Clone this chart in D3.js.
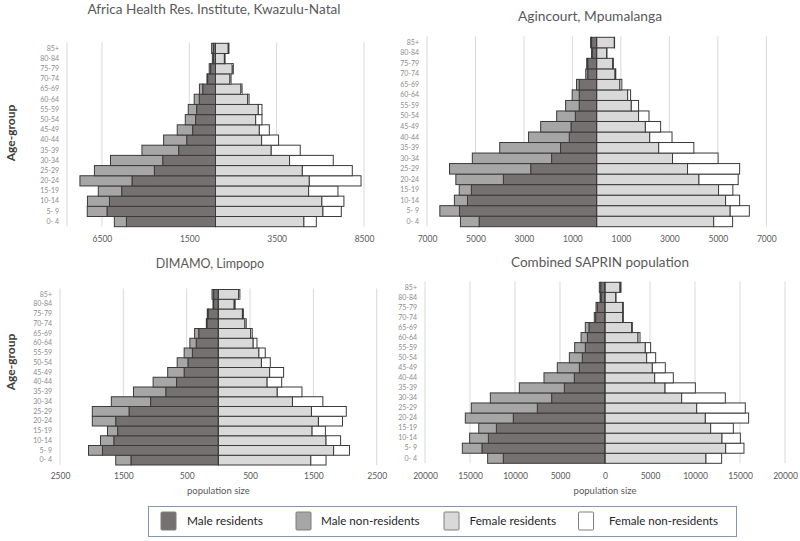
<!DOCTYPE html>
<html>
<head>
<meta charset="utf-8">
<script src="https://cdn.jsdelivr.net/npm/d3@7/dist/d3.min.js"></script>
<style>
  html, body { margin: 0; padding: 0; background: #fff; }
  svg { display: block; font-family: Lato, "Open Sans", sans-serif; }
</style>
</head>
<body>
<svg id="chart" width="800" height="541"></svg>
<script>
// ---------- DATA (age groups listed from youngest to oldest) ----------
const ageGroups = ["0- 4","5- 9","10-14","15-19","20-24","25-29","30-34","35-39","40-44",
                   "45-49","50-54","55-59","60-64","65-69","70-74","75-79","80-84","85+"];

const seriesNames = ["Male residents","Male non-residents","Female residents","Female non-residents"];

// Africa Health Res. Institute, Kwazulu-Natal
const ahriMaleRes      = [5100,6210,6070,5370,4780,3500,3020,2110,1650,1310,1140,1080,930,730,450,280,120,120];
const ahriMaleNonRes   = [690,1130,1260,1340,2980,3430,2990,2100,1320,880,590,480,290,190,40,80,60,100];
const ahriFemaleRes    = [5060,6150,6090,5330,5370,4970,4240,3190,2640,2510,2300,2450,1840,1460,830,960,510,730];
const ahriFemaleNonRes = [710,1050,1260,1680,2960,2860,2500,1660,970,570,360,210,80,60,60,60,40,40];
const ahriTicks = [-6500,-1500,3500,8500];

// Agincourt, Mpumalanga
const agiMaleRes      = [4850,5660,5330,5170,3850,2720,1860,1490,1130,1060,880,720,720,720,370,370,180,210];
const agiMaleNonRes   = [770,810,540,500,1960,3350,3270,2510,1680,1250,770,560,290,110,80,40,30,40];
const agiFemaleRes    = [4830,5510,5320,5030,4220,3750,3130,2560,2190,2010,1730,1430,1280,960,760,660,410,730];
const agiFemaleNonRes = [780,790,580,590,1620,2150,1880,1450,920,630,430,300,120,80,30,30,15,10];
const agiTicks = [-7000,-5000,-3000,-1000,1000,3000,5000,7000];

// DIMAMO, Limpopo
const dimMaleRes      = [1380,1830,1650,1590,1620,1410,1070,830,660,540,480,410,350,310,180,160,75,75];
const dimMaleNonRes   = [240,220,210,160,370,580,620,510,370,260,170,130,100,65,10,15,10,25];
const dimFemaleRes    = [1460,1820,1700,1480,1580,1470,1170,930,770,810,680,640,550,510,420,380,250,320];
const dimFemaleNonRes = [240,250,230,210,380,550,480,390,230,220,140,100,60,25,20,15,15,20];
const dimTicks = [-2500,-1500,-500,500,1500,2500];

// Combined SAPRIN population
const comMaleRes      = [11300,13670,12960,12070,10190,7520,5930,4520,3410,2850,2520,2190,1960,1780,1040,850,440,480];
const comMaleNonRes   = [1740,2180,2080,1960,5330,7330,6810,5000,3370,2450,1440,1180,700,410,150,150,110,150];
const comFemaleRes    = [11220,13410,13000,11740,11150,10190,8520,6670,5520,5260,4630,4480,3670,2960,1960,1960,1190,1670];
const comFemaleNonRes = [1740,2030,2040,2520,4810,5400,4850,3370,2070,1440,1000,590,220,80,80,80,30,110];
const comTicks = [-20000,-15000,-10000,-5000,0,5000,10000,15000,20000];

const titles = ["Africa Health Res. Institute, Kwazulu-Natal","Agincourt, Mpumalanga","DIMAMO, Limpopo","Combined SAPRIN population"];

// ---------- STYLE / LAYOUT ----------
const colors = ["#767171","#a6a6a6","#d9d9d9","#ffffff"];
const stroke = "#3a3a3a";

const panels = [
  { title: titles[0], mr: ahriMaleRes, mn: ahriMaleNonRes, fr: ahriFemaleRes, fn: ahriFemaleNonRes,
    ticks: ahriTicks, domain: [-8500, 8500], x: [67, 364], y: [43.3, 226.7],
    titleX: 214, titleY: 14, titleW: 253, tickY: 240, xlabel: false },
  { title: titles[1], mr: agiMaleRes, mn: agiMaleNonRes, fr: agiFemaleRes, fn: agiFemaleNonRes,
    ticks: agiTicks, domain: [-7000, 7000], x: [427, 766.3], y: [37.3, 226.7],
    titleX: 590, titleY: 21, titleW: 144, tickY: 240, xlabel: false },
  { title: titles[2], mr: dimMaleRes, mn: dimMaleNonRes, fr: dimFemaleRes, fn: dimFemaleNonRes,
    ticks: dimTicks, domain: [-2500, 2500], x: [60, 376.7], y: [289.5, 465],
    titleX: 210, titleY: 268, titleW: null, tickY: 477, xlabel: true },
  { title: titles[3], mr: comMaleRes, mn: comMaleNonRes, fr: comFemaleRes, fn: comFemaleNonRes,
    ticks: comTicks, domain: [-20000, 20000], x: [425, 785], y: [282.3, 463.3],
    titleX: 600, titleY: 267, titleW: 178, tickY: 477, xlabel: true }
];

const svg = d3.select("#chart");

function fitFont(sel, base, target) {
  sel.style("font-size", base + "px");
  if (!target) return;
  const w = sel.node().getComputedTextLength();
  if (w > 0) sel.style("font-size", (base * target / w).toFixed(2) + "px");
}

panels.forEach(p => {
  const g = svg.append("g");
  const x = d3.scaleLinear().domain(p.domain).range(p.x);
  const y = d3.scaleBand().domain(ageGroups.slice().reverse()).range(p.y).padding(0);

  // gridlines (including left axis line at domain min)
  const gridVals = [p.domain[0]].concat(p.ticks.filter(t => t !== p.domain[0] && t !== 0));
  g.selectAll("line.grid").data(gridVals).enter().append("line")
    .attr("x1", d => x(d)).attr("x2", d => x(d))
    .attr("y1", p.y[0] - 1).attr("y2", p.y[1])
    .attr("stroke", "#d9d9d9").attr("stroke-width", 1);

  // bars
  const rows = ageGroups.map((a, i) => ({
    age: a, mr: p.mr[i], mn: p.mn[i], fr: p.fr[i], fn: p.fn[i]
  }));
  const segs = [];
  rows.forEach(r => {
    segs.push({ age: r.age, x0: -r.mr, x1: 0, c: 0 });
    segs.push({ age: r.age, x0: -(r.mr + r.mn), x1: -r.mr, c: 1 });
    segs.push({ age: r.age, x0: 0, x1: r.fr, c: 2 });
    segs.push({ age: r.age, x0: r.fr, x1: r.fr + r.fn, c: 3 });
  });
  g.selectAll("rect.bar").data(segs).enter().append("rect")
    .attr("x", d => x(d.x0))
    .attr("width", d => Math.max(0, x(d.x1) - x(d.x0)))
    .attr("y", d => y(d.age))
    .attr("height", y.bandwidth())
    .attr("fill", d => colors[d.c])
    .attr("stroke", stroke).attr("stroke-width", 1);

  // centre line
  g.append("line").attr("x1", x(0)).attr("x2", x(0))
    .attr("y1", p.y[0]).attr("y2", p.y[1]).attr("stroke", stroke).attr("stroke-width", 1);

  // age-group axis labels
  const ya = g.append("g").attr("transform", `translate(${p.x[0]},0)`)
    .call(d3.axisLeft(y).tickSize(0).tickPadding(8));
  ya.select(".domain").remove();
  ya.selectAll("text").attr("fill", "#8c8c8c").style("font-size", "7px")
    .style("font-family", "Lato, sans-serif");

  // x axis
  const xa = g.append("g").attr("transform", `translate(0,${p.tickY - 4})`)
    .call(d3.axisBottom(x).tickValues(p.ticks).tickSize(0).tickPadding(0)
      .tickFormat(d => String(Math.abs(d))));
  xa.select(".domain").remove();
  xa.selectAll("text").attr("fill", "#595959").style("font-size", "8.5px")
    .style("font-family", "Lato, sans-serif");

  // title
  const t = g.append("text").attr("x", p.titleX).attr("y", p.titleY)
    .attr("text-anchor", "middle").attr("fill", "#595959").text(p.title);
  fitFont(t, 12.5, p.titleW);

  if (p.xlabel) {
    g.append("text").attr("x", x(0)).attr("y", 494).attr("text-anchor", "middle")
      .attr("fill", "#595959").style("font-size", "9.5px").text("population size");
  }
});

// Age-group labels
[133, 362].forEach(cy => {
  svg.append("text").attr("transform", `translate(15,${cy}) rotate(-90)`)
    .attr("text-anchor", "middle").attr("fill", "#404040")
    .style("font-size", "12px").style("font-weight", "bold").text("Age-group");
});

// Legend
const lg = svg.append("g");
lg.append("rect").attr("x", 148.5).attr("y", 506.5).attr("width", 588).attr("height", 30)
  .attr("fill", "#fff").attr("stroke", "#8497b0").attr("stroke-width", 1);
const legendX = [161, 296, 444, 578.5];
const legendTextX = [187, 321, 469.5, 609];
const legendTextW = [76, 98.7, 86.7, 109];
seriesNames.forEach((name, i) => {
  lg.append("rect").attr("x", legendX[i]).attr("y", 512).attr("width", 15).attr("height", 18)
    .attr("fill", colors[i]).attr("stroke", "#7f7f7f").attr("stroke-width", 1).attr("rx", 1);
  const tx = lg.append("text").attr("x", legendTextX[i]).attr("y", 524.5)
    .attr("fill", "#262626").text(name);
  fitFont(tx, 12.5, legendTextW[i]);
});
</script>
</body>
</html>
